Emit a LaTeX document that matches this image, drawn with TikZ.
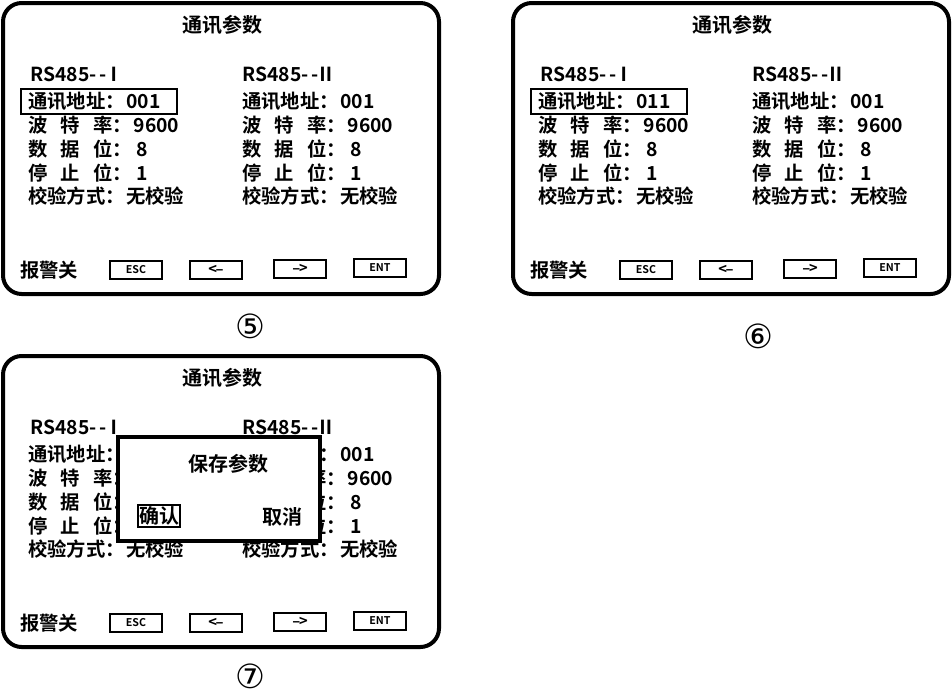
\documentclass[tikz,border=0pt]{standalone}
\usepackage{fontspec}
\setmainfont{Noto Sans CJK SC}[BoldFont={Noto Sans CJK SC Bold}]
\newfontfamily\symfont{DejaVu Sans}
\usetikzlibrary{positioning}
\tikzset{%
  % styles of the screen
      screen/.style = {draw=black, line width=3pt, rounded corners=14pt},
       txt/.style = {inner sep=0pt, anchor=west, font=\fontsize{14.5}{16}\selectfont\bfseries},
     title/.style = {inner sep=0pt, font=\fontsize{15}{17}\selectfont\bfseries},
      keybox/.style = {draw=black, line width=1.4pt, minimum width=39pt, minimum height=13pt,
                       inner sep=0pt, font=\fontsize{8}{8}\selectfont\bfseries},
      markbox/.style = {draw=black, line width=2pt},
     circnum/.style = {inner sep=0pt, font=\symfont\fontsize{25}{26}\selectfont},
}
\newcommand{\gp}{\kern 10pt}
% one screen: #1 prefix, #2 x, #3 y, #4 address
\newcommand{\screen}[4]{%
  \begin{scope}[shift={(#2,#3)}]
  \draw[screen] (3,3) rectangle (439,294);
  \node (#1title) [title] at (222,25) {通讯参数};
  \node (#1ha) [txt] at (30,74) {RS485-\,-\kern-2pt Ⅰ};
  \node (#1hb) [txt] at (242,74) {RS485-\,-\kern-2pt Ⅱ};
  \foreach \y/\l/\v/\w [count=\i] in {101/通讯地址/#4/001, 125/波\gp 特\gp 率/9600/9600,
      149/数\gp 据\gp 位/\,8/\,8, 173/停\gp 止\gp 位/\,1/\,1, 196/校验方式/无校验/无校验}{
    \node (#1l\i) [txt] at (28,\y) {\l：\kern1pt\v};
    \node (#1r\i) [txt] at (242,\y) {\l：\kern1pt\w};
  }
  \node (#1alarm) [txt] at (20,270) {报警关};
  \node (#1esc) [keybox] at (136,270) {ESC};
  \node (#1left) [keybox] at (216,270) {\fontsize{11}{11}\selectfont <\kern-1pt--};
  \node (#1right) [keybox] at (300,269) {\fontsize{11}{11}\selectfont --\kern-1pt>};
  \node (#1ent) [keybox] at (380,268) {ENT};
  \end{scope}}
\begin{document}
\begin{tikzpicture}[x=0.75pt, y=-0.75pt]
  \useasboundingbox (0,0) rectangle (952,693);
  \screen{a}{0}{0}{001}
  \draw[markbox] (21,89) rectangle (177,114);
  \node (numa) [circnum] at (250,326) {⑤};

  \screen{b}{510}{0}{011}
  \draw[markbox] (531,89) rectangle (687,114);
  \node (numb) [circnum] at (758,336) {⑥};

  \screen{c}{0}{353}{001}
  \fill[white] (118,437) rectangle (320,541);
  \draw[black, line width=3.5pt] (118,437) rectangle (320,541);
  \node (save) [title, font=\fontsize{15}{16}\selectfont\bfseries] at (228,464) {保存参数};
  \node (ok) [title, font=\fontsize{15}{16}\selectfont\bfseries, draw, line width=1.5pt, inner sep=1pt] at (159,516) {确认};
  \node (cancel) [title, font=\fontsize{15}{16}\selectfont\bfseries] at (282,517) {取消};
  \node (numc) [circnum] at (250,676) {⑦};
\end{tikzpicture}
\end{document}
